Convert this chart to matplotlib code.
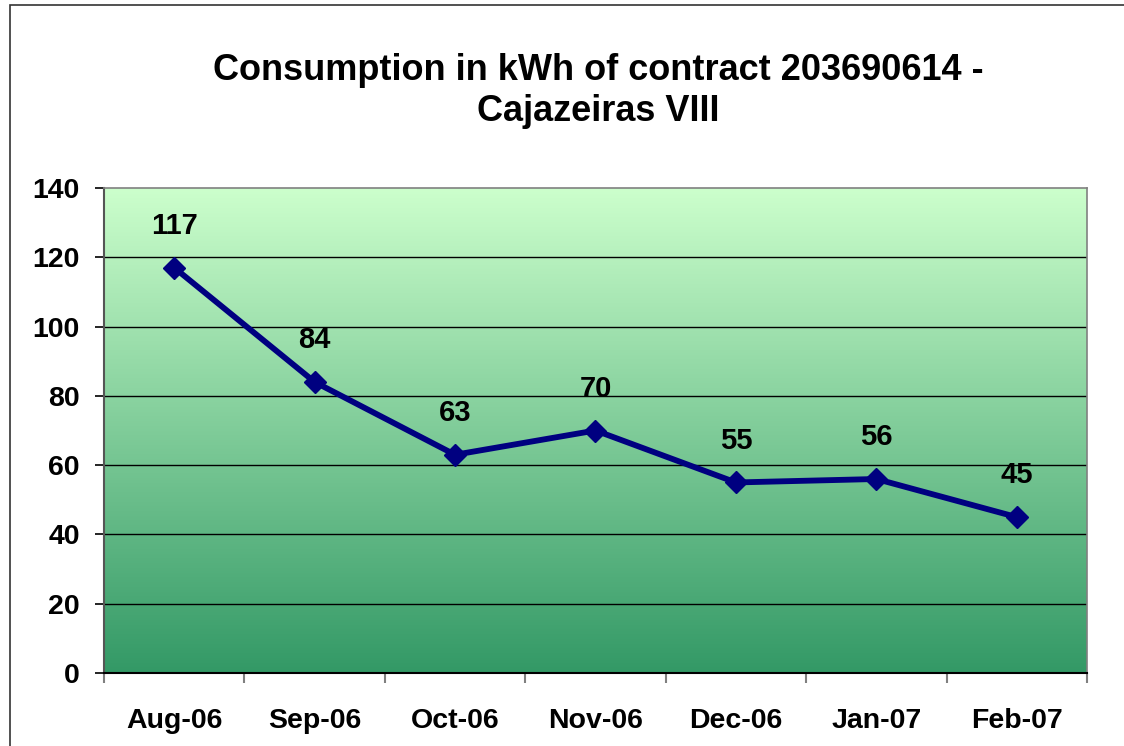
import numpy as np
import matplotlib.pyplot as plt
from matplotlib.colors import LinearSegmentedColormap
from matplotlib.patches import Rectangle

plt.rcParams['font.family'] = ['Liberation Sans', 'DejaVu Sans']

# data
months = ["Aug-06", "Sep-06", "Oct-06", "Nov-06", "Dec-06", "Jan-07", "Feb-07"]
kwh = [117, 84, 63, 70, 55, 56, 45]
yticks = [0, 20, 40, 60, 80, 100, 120, 140]

W, H = 1124, 746
fig = plt.figure(figsize=(W / 100, H / 100), dpi=100)

# outer chart border
fig.patches.append(Rectangle((10 / W, -0.05), 1.2, (H - 5) / H + 0.05, transform=fig.transFigure,
                             fill=False, edgecolor="#333333", linewidth=1.2))

left, right, top, bottom = 104, 1087, 188, 673
ax = fig.add_axes([left / W, 1 - bottom / H, (right - left) / W, (bottom - top) / H])

# gradient background
cmap = LinearSegmentedColormap.from_list("grn", ["#339966", "#ccffcc"])
grad = np.linspace(0, 1, 256).reshape(-1, 1)
ax.imshow(grad, aspect="auto", cmap=cmap, origin="lower",
          extent=[0, 1, 0, 1], transform=ax.transAxes, zorder=0)

x = np.arange(len(months))
ax.set_xlim(-0.5, len(months) - 0.5)
ax.set_ylim(0, 140)

for y in yticks[1:-1]:
    ax.axhline(y, color="black", linewidth=1.0, zorder=1)

ax.plot(x, kwh, color="#000080", linewidth=4.2, marker="D", markersize=11.5, zorder=3)
for xi, v in zip(x, kwh):
    ax.annotate(str(v), (xi, v), xytext=(0, 30), textcoords="offset points",
                ha="center", va="center", fontsize=21, fontweight="bold")

ax.set_yticks(yticks)
ax.set_yticklabels([str(t) for t in yticks], fontsize=20.5, fontweight="bold")
ax.set_xticks(x)
ax.set_xticklabels(months, fontsize=20.5, fontweight="bold")
ax.set_xticks(np.arange(len(months) + 1) - 0.5, minor=True)
ax.tick_params(axis="x", which="major", length=0, pad=25)
ax.tick_params(axis="x", which="minor", length=7, width=1.5, color="#808080", direction="out")
ax.tick_params(axis="y", length=6.5, width=1.2, color="black", pad=11)

for s in ["top", "right"]:
    ax.spines[s].set_color("#808080")
    ax.spines[s].set_linewidth(1.2)
ax.spines["left"].set_color("#555555")
ax.spines["left"].set_linewidth(1.5)
ax.spines["bottom"].set_color("black")
ax.spines["bottom"].set_linewidth(1.5)

fig.text(598 / W, 1 - 91 / H, "Consumption in kWh of contract 203690614 -\nCajazeiras VIII",
         ha="center", va="center", fontsize=26, fontweight="bold", linespacing=1.22)

fig.savefig("out.png", dpi=100)
